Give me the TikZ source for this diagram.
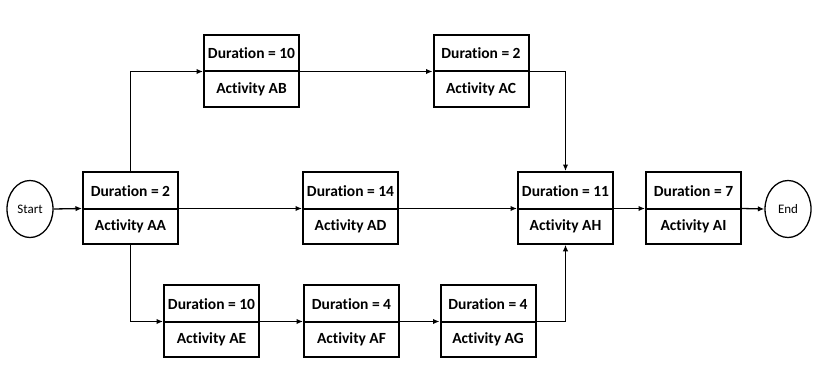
\documentclass[tikz,border=0pt]{standalone}
\usepackage{fontspec}
\setmainfont{Carlito}[Ligatures=NoCommon]
\usetikzlibrary{shapes.multipart,shapes.geometric,arrows.meta}
\begin{document}
\begin{tikzpicture}[x=1pt,y=-1pt,
 act/.style={rectangle split, rectangle split parts=2, draw, line width=2pt,
   minimum width=95pt, align=center, rectangle split part align=center,
   inner xsep=0pt, inner ysep=10pt, text height=13pt, text depth=1.5pt,
   font=\bfseries\fontsize{15.5}{18}\selectfont, anchor=text split},
 ev/.style={ellipse, draw, line width=1.3pt, minimum width=46pt, minimum height=57pt,
   inner sep=0pt, font=\fontsize{13}{15}\selectfont},
 con/.style={line width=1.3pt, -{Latex[length=6.5pt,width=5.5pt]}}]
\useasboundingbox (0,0) rectangle (826,385);
\fill[white] (0,0) rectangle (826,385);

\node[ev] (start) at (30,209) {Start};
\node[ev] (end) at (788,209) {End};

\node[act] (AA) at (130.5,208.5) {Duration = 2\nodepart{two}Activity AA};
\node[act] (AB) at (251.5,71.5) {Duration = 10\nodepart{two}Activity AB};
\node[act] (AC) at (481,71.5) {Duration = 2\nodepart{two}Activity AC};
\node[act] (AD) at (350.5,208.5) {Duration = 14\nodepart{two}Activity AD};
\node[act] (AH) at (565.5,208.5) {Duration = 11\nodepart{two}Activity AH};
\node[act] (AI) at (693.5,208.5) {Duration = 7\nodepart{two}Activity AI};
\node[act] (AE) at (211.5,321.5) {Duration = 10\nodepart{two}Activity AE};
\node[act] (AF) at (351.5,321.5) {Duration = 4\nodepart{two}Activity AF};
\node[act] (AG) at (488,321.5) {Duration = 4\nodepart{two}Activity AG};

\draw[con] (start.east) -- (AA.text split west);
\draw[con] (AA.text split east) -- (AD.text split west);
\draw[con] (AD.text split east) -- (AH.text split west);
\draw[con] (AH.text split east) -- (AI.text split west);
\draw[con] (AI.text split east) -- (end.west);
\draw[con] (AA.north) |- (AB.text split west);
\draw[con] (AB.text split east) -- (AC.text split west);
\draw[con] (AC.text split east) -| (AH.north);
\draw[con] (AA.south) |- (AE.text split west);
\draw[con] (AE.text split east) -- (AF.text split west);
\draw[con] (AF.text split east) -- (AG.text split west);
\draw[con] (AG.text split east) -| (AH.south);
\end{tikzpicture}
\end{document}
